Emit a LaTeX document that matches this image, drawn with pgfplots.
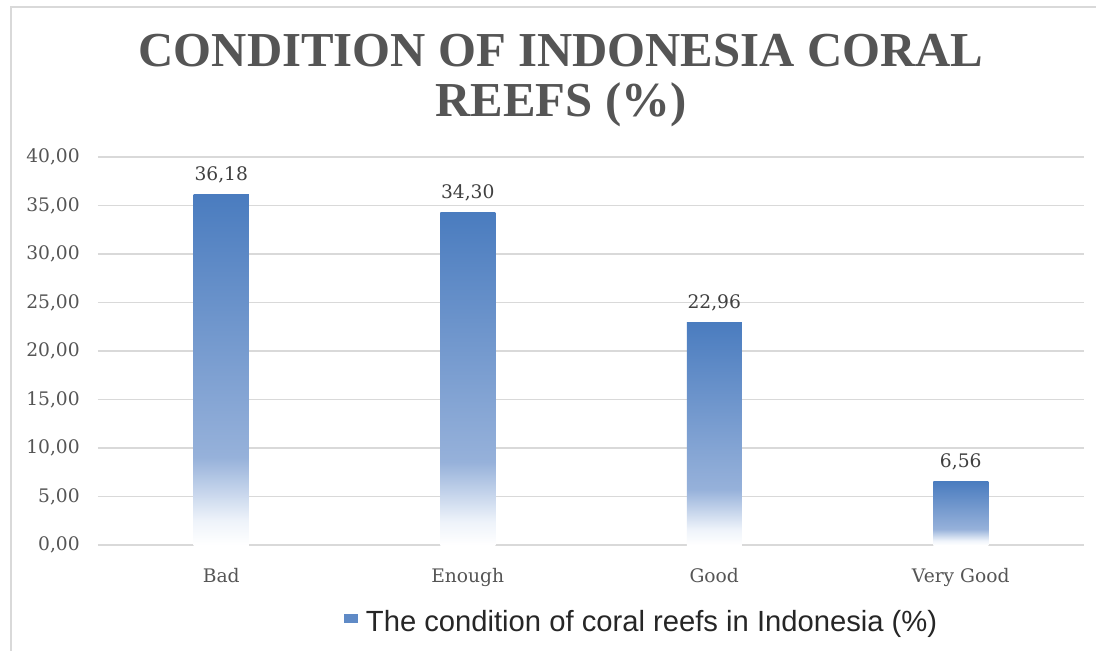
\documentclass[border=0pt]{standalone}
\usepackage{fontspec}
\setmainfont{DejaVu Serif}
\newfontfamily\titlefont{Liberation Serif}
\newfontfamily\legfont{Liberation Sans}
\usepackage{pgfplots}
\pgfplotsset{compat=1.18}
\definecolor{ctop}{HTML}{4A7CBF}
\definecolor{cmid}{HTML}{96B1DA}
\definecolor{clow}{HTML}{EEF3FA}
\definecolor{txt}{HTML}{555555}
\definecolor{lbl}{HTML}{404040}
\definecolor{gridc}{HTML}{D9D9D9}
\definecolor{legc}{HTML}{5F8AC6}
\pgfdeclareverticalshading{coral}{100bp}{color(0bp)=(white); color(25bp)=(white); color(28.5bp)=(clow); color(37.5bp)=(cmid); color(75bp)=(ctop); color(100bp)=(ctop)}
\begin{document}
\begin{tikzpicture}
\useasboundingbox (0,0) rectangle (822pt,487.5pt);
\clip (0,0) rectangle (822pt,487.5pt);
\fill[white] (0,0) rectangle (822pt,487.5pt);
\draw[gridc, line width=1.2pt] (8.25pt,-10pt) -- (8.25pt,482.25pt) -- (830pt,482.25pt);
\node[font=\titlefont\bfseries\fontsize{36.6}{42}\selectfont, text=txt, anchor=base, inner sep=0pt] at (420.75pt,437.25pt) {CONDITION OF INDONESIA CORAL};
\node[font=\titlefont\bfseries\fontsize{36.6}{42}\selectfont, text=txt, anchor=base, inner sep=0pt] at (420.75pt,399.75pt) {REEFS (\%)};
\begin{axis}[
  at={(73.5pt,78.75pt)}, anchor=south west,
  width=739.5pt, height=291pt, scale only axis,
  xmin=-0.5, xmax=3.5, ymin=0, ymax=40,
  ybar, bar width=41.25pt,
  ytick={0,5,10,15,20,25,30,35,40},
  xtick={0,1,2,3}, xticklabels={Bad,Enough,Good,Very Good},
  scaled ticks=false,
  ymajorgrids, major grid style={gridc, line width=0.9pt},
  axis line style={draw=none}, tick style={draw=none},
  ticklabel style={font=\fontsize{14}{16}\selectfont, text=txt},
  yticklabel style={anchor=east, inner sep=0pt, xshift=-13.5pt},
  xticklabel style={anchor=base, inner sep=0pt, yshift=-24pt},
  yticklabel={\pgfmathprintnumber[use comma, fixed, fixed zerofill, precision=2, assume math mode=true]{\tick}},
  nodes near coords={\pgfmathprintnumber[use comma, fixed, fixed zerofill, precision=2, assume math mode=true]{\pgfplotspointmeta}},
  nodes near coords style={font=\fontsize{14}{16}\selectfont, text=lbl, anchor=base, inner sep=0pt, yshift=10.5pt},
  legend style={at={(0.2495,-0.197)}, anchor=west, draw=none, fill=none, inner sep=0pt,
    font=\legfont\fontsize{21.9}{26}\selectfont, text=black!85},
]
\addplot[ybar, bar shift=0pt, draw=none, shade, shading=coral, forget plot] coordinates {(0,36.18)};
\addplot[ybar, bar shift=0pt, draw=none, shade, shading=coral, forget plot] coordinates {(1,34.30)};
\addplot[ybar, bar shift=0pt, draw=none, shade, shading=coral, forget plot] coordinates {(2,22.96)};
\addplot[ybar, bar shift=0pt, draw=none, shade, shading=coral, forget plot] coordinates {(3,6.56)};
\addlegendimage{draw=none, legend image code/.code={\fill[legc, draw=none] (0pt,-1.5pt) rectangle (10.5pt,5.25pt); \path[draw=none, fill=none] (0pt,0pt) rectangle (14.25pt,0.1pt);}}
\addlegendentry{The condition of coral reefs in Indonesia (\%)}
\end{axis}
\end{tikzpicture}
\end{document}
